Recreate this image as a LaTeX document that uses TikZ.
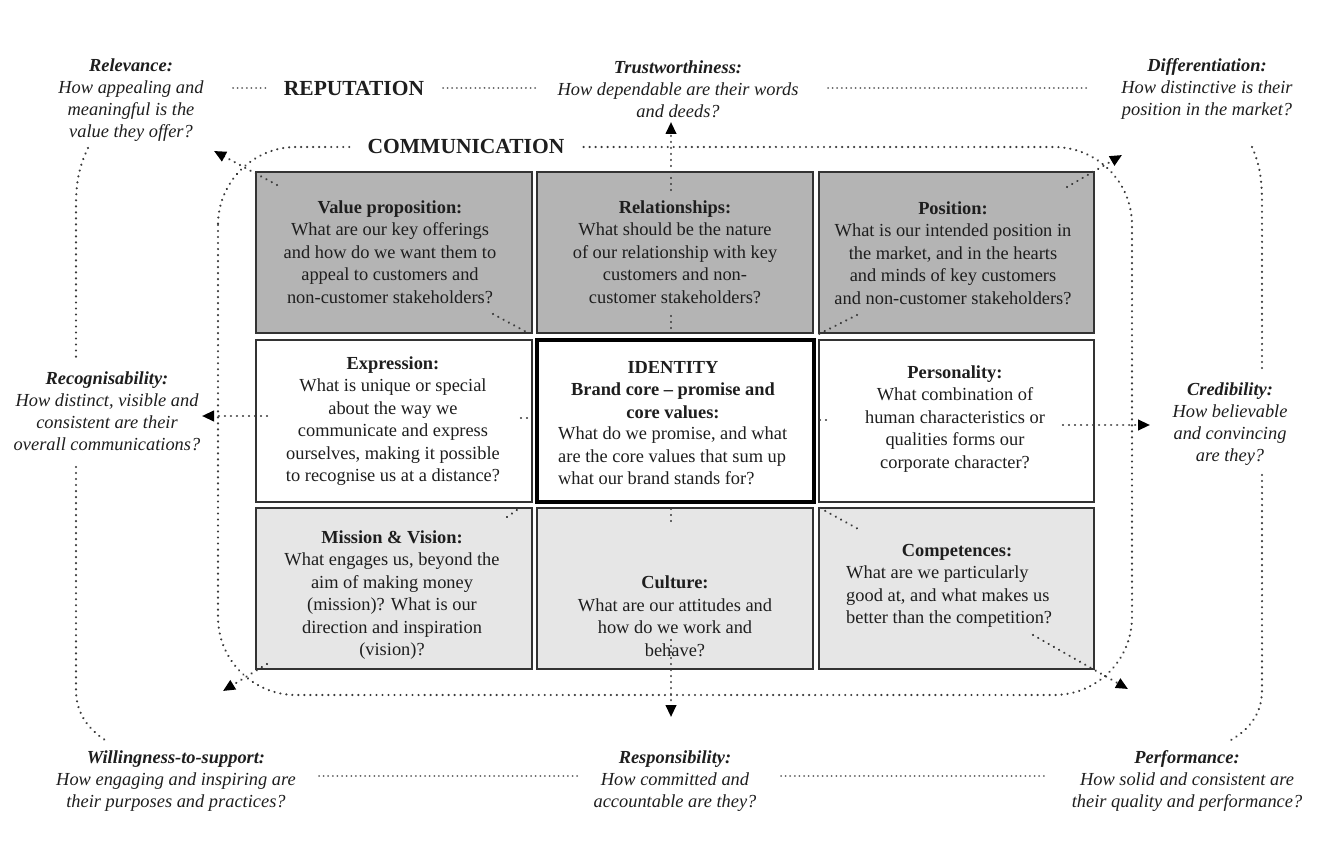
\documentclass[tikz,border=0pt]{standalone}
\usepackage{fontspec}
\setmainfont{Liberation Serif}
\usetikzlibrary{arrows.meta}
\definecolor{topgray}{HTML}{B4B4B4}
\definecolor{botgray}{HTML}{E6E6E6}
\definecolor{bordc}{HTML}{333333}
\definecolor{txtc}{HTML}{1E1E1E}
\definecolor{dotc}{HTML}{3A3A3A}
\begin{document}
\begin{tikzpicture}[x=1pt,y=-1pt,
  gbox/.style={draw=bordc, line width=1.8pt, inner sep=0pt},
  btext/.style={align=center, font=\fontsize{18.4}{22.5}\selectfont, text=txtc, inner sep=0pt},
  otext/.style={align=center, font=\fontsize{18.4}{22}\selectfont\itshape, text=txtc, inner sep=0pt},
  bigt/.style={font=\fontsize{21.5}{24}\selectfont\bfseries, text=txtc},
  dots/.style={draw=dotc, line width=2.4pt, line cap=round, dash pattern=on 0.01pt off 6pt},
  fdots/.style={draw=dotc!80, line width=2pt, line cap=round, dash pattern=on 0.01pt off 4.6pt},
  darrow/.style={dots, -{Triangle[length=12pt,width=10.5pt,color=black]}},
]
\fill[white] (0,0) rectangle (1332,842);
\useasboundingbox (0,0) rectangle (1332,842);

% communication rounded frame
\draw[dots, rounded corners=78pt] (218,147) rectangle (1132,695);

% outer arcs
\coordinate (la1) at (88,148);  \coordinate (la2) at (76,205); \coordinate (la3) at (76,357);
\coordinate (la4) at (76,467);  \coordinate (la5) at (76,690); \coordinate (la6) at (105,740);
\draw[dots] (la1) .. controls (80,165) and (76,180) .. (la2) -- (la3);
\draw[dots] (la4) -- (la5) .. controls (76,715) and (90,730) .. (la6);
\coordinate (ra1) at (1252,147); \coordinate (ra2) at (1262,205); \coordinate (ra3) at (1262,370);
\coordinate (ra4) at (1262,475); \coordinate (ra5) at (1262,690); \coordinate (ra6) at (1231,740);
\draw[dots] (ra1) .. controls (1260,165) and (1262,180) .. (ra2) -- (ra3);
\draw[dots] (ra4) -- (ra5) .. controls (1262,715) and (1248,730) .. (ra6);

% grid boxes
\node[gbox, fill=topgray, minimum width=276pt, minimum height=161pt] (b11) at (394,252.5) {};
\node[gbox, fill=topgray, minimum width=276pt, minimum height=161pt] (b12) at (675,252.5) {};
\node[gbox, fill=topgray, minimum width=275pt, minimum height=161pt] (b13) at (956.5,252.5) {};
\node[gbox, fill=white, minimum width=276pt, minimum height=162pt] (b21) at (394,421) {};
\node[gbox, fill=white, minimum width=275pt, minimum height=162pt] (b23) at (956.5,421) {};
\node[gbox, fill=botgray, minimum width=276pt, minimum height=161pt] (b31) at (394,588.5) {};
\node[gbox, fill=botgray, minimum width=276pt, minimum height=161pt] (b32) at (675,588.5) {};
\node[gbox, fill=botgray, minimum width=275pt, minimum height=161pt] (b33) at (956.5,588.5) {};
\node[draw=black, line width=3.5pt, fill=white, inner sep=0pt, minimum width=277pt, minimum height=162pt] (b22) at (675.5,421) {};

% arrows
\coordinate (upS) at (671,190);   \coordinate (upE) at (671,122);
\coordinate (dnS) at (671,640);   \coordinate (dnE) at (671,717);
\coordinate (lfS) at (267,416);   \coordinate (lfE) at (202,416);
\coordinate (rtS) at (1063,425);  \coordinate (rtE) at (1150,425);
\coordinate (tlS) at (277,185);   \coordinate (tlE) at (214,151);
\coordinate (trS) at (1067,187);  \coordinate (trE) at (1122,155);
\coordinate (blS) at (267,664);   \coordinate (blE) at (223,691);
\coordinate (brS) at (1033,635);  \coordinate (brE) at (1128,689);
\draw[darrow] (upS) -- (upE);
\draw[darrow] (dnS) -- (dnE);
\draw[darrow] (lfS) -- (lfE);
\draw[darrow] (rtS) -- (rtE);
\draw[darrow] (tlS) -- (tlE);
\draw[darrow] (trS) -- (trE);
\draw[darrow] (blS) -- (blE);
\draw[darrow] (brS) -- (brE);

% short dotted segments near the identity box
\coordinate (s1a) at (493,314); \coordinate (s1b) at (530,334);
\coordinate (s2a) at (857,315); \coordinate (s2b) at (819,334);
\coordinate (s3a) at (820,508); \coordinate (s3b) at (860,530);
\coordinate (s4a) at (507,517); \coordinate (s4b) at (517,510);
\coordinate (s5a) at (671,316); \coordinate (s5b) at (671,334);
\coordinate (s6a) at (671,509); \coordinate (s6b) at (671,524);
\coordinate (s7a) at (521,418); \coordinate (s7b) at (532,418);
\coordinate (s8a) at (820,420); \coordinate (s8b) at (832,420);
\draw[dots] (s1a) -- (s1b);
\draw[dots] (s2a) -- (s2b);
\draw[dots] (s3a) -- (s3b);
\draw[dots] (s4a) -- (s4b);
\draw[dots] (s5a) -- (s5b);
\draw[dots] (s6a) -- (s6b);
\draw[dots] (s7a) -- (s7b);
\draw[dots] (s8a) -- (s8b);

% box texts
\node[btext] (t11) at (390,252) {\textbf{Value proposition:}\\What are our key offerings\\and how do we want them to\\appeal to customers and\\non-customer stakeholders?};
\node[btext] (t12) at (675,252) {\textbf{Relationships:}\\What should be the nature\\of our relationship with key\\customers and non-\\customer stakeholders?};
\node[btext] (t13) at (953,253) {\textbf{Position:}\\What is our intended position in\\the market, and in the hearts\\and minds of key customers\\and non-customer stakeholders?};
\node[btext] (t21) at (393,421) {\textbf{Expression:}\\What is unique or special\\about the way we\\communicate and express\\ourselves, making it possible\\to recognise us at a distance?};
\node[btext] (t22a) at (673,390) {\textbf{IDENTITY}\\\textbf{Brand core – promise and}\\\textbf{core values:}};
\node[btext, align=left, anchor=west] (t22b) at (558,456) {What do we promise, and what\\are the core values that sum up\\what our brand stands for?};
\node[btext] (t23) at (955,419) {\textbf{Personality:}\\What combination of\\human characteristics or\\qualities forms our\\corporate character?};
\node[btext] (t31) at (392,595) {\textbf{Mission \& Vision:}\\What engages us, beyond the\\aim of making money\\(mission)? What is our\\direction and inspiration\\(vision)?};
\node[btext] (t32) at (675,616) {\textbf{Culture:}\\What are our attitudes and\\how do we work and\\behave?};
\node[btext] (t33a) at (957,552) {\textbf{Competences:}};
\node[btext, align=left, anchor=west] (t33b) at (846,597) {What are we particularly\\good at, and what makes us\\better than the competition?};

% headings
\node[bigt, inner sep=0pt] (rep) at (354,88) {REPUTATION};
\node[bigt, fill=white, inner xsep=16pt, inner ysep=3pt] (com) at (466,146) {COMMUNICATION};

% outer labels
\node[otext] (rel) at (131,100) {\textbf{Relevance:}\\How appealing and\\meaningful is the\\value they offer?};
\node[otext] (tru) at (678,89) {\textbf{Trustworthiness:}\\How dependable are their words\\and deeds?};
\node[otext] (dif) at (1207,89) {\textbf{Differentiation:}\\How distinctive is their\\position in the market?};
\node[otext] (rec) at (107,411) {\textbf{Recognisability:}\\How distinct, visible and\\consistent are their\\overall communications?};
\node[otext] (cre) at (1230,424) {\textbf{Credibility:}\\How believable\\and convincing\\are they?};
\node[otext] (wil) at (176,781) {\textbf{Willingness-to-support:}\\How engaging and inspiring are\\their purposes and practices?};
\node[otext] (res) at (675,781) {\textbf{Responsibility:}\\How committed and\\accountable are they?};
\node[otext] (per) at (1187,781) {\textbf{Performance:}\\How solid and consistent are\\their quality and performance?};

% dotted links between outer labels
\coordinate (d1a) at (233,88);  \coordinate (d1b) at (266,88);
\coordinate (d2a) at (443,88);  \coordinate (d2b) at (536,88);
\coordinate (d3a) at (828,88);  \coordinate (d3b) at (1090,88);
\coordinate (d4a) at (319,776); \coordinate (d4b) at (580,776);
\coordinate (d5a) at (781,776); \coordinate (d5b) at (1046,776);
\draw[fdots] (d1a) -- (d1b);
\draw[fdots] (d2a) -- (d2b);
\draw[fdots] (d3a) -- (d3b);
\draw[fdots] (d4a) -- (d4b);
\draw[fdots] (d5a) -- (d5b);
\end{tikzpicture}
\end{document}
